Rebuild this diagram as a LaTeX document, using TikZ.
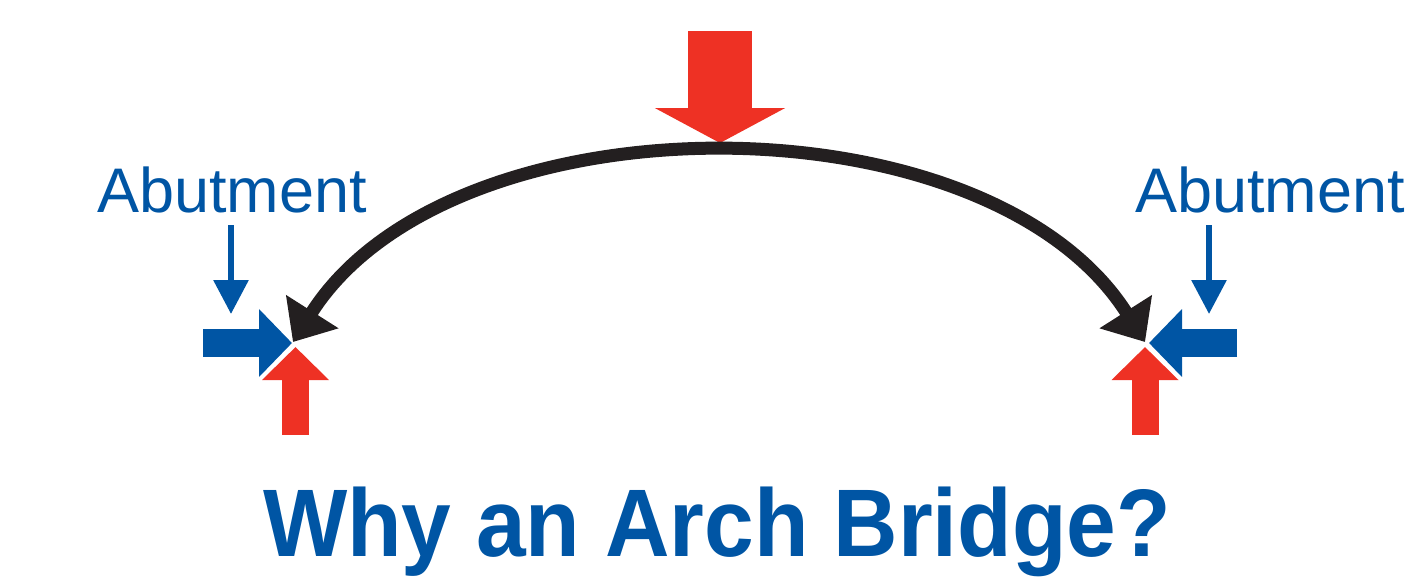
\documentclass[tikz,border=0pt]{standalone}
\usepackage{fontspec}
\setmainfont{Liberation Sans}
\usetikzlibrary{arrows.meta}
\definecolor{archblue}{HTML}{0055A4}
\definecolor{archred}{HTML}{EE3124}
\definecolor{archblack}{HTML}{231F20}

\begin{document}
\begin{tikzpicture}[
  x=1pt, y=-1pt,
  label/.style={inner sep=0pt, anchor=base, text=archblue, font=\fontsize{63}{70}\selectfont},
  heading/.style={inner sep=0pt, anchor=base, text=archblue, xscale=0.93, font=\bfseries\fontsize{96}{110}\selectfont},
  archline/.style={draw=archblack, line width=13pt, {Triangle[length=36pt, width=60pt]}-{Triangle[length=36pt, width=60pt]}},
  thinarr/.style={draw=archblue, line width=6pt, -{Triangle[length=34pt, width=34pt]}},
  push/.style={draw=archblue, line width=28pt, -{Triangle[length=33pt, width=66pt]}},
  lift/.style={draw=archred, line width=27pt, -{Triangle[length=33pt, width=65pt]}},
  load/.style={draw=archred, line width=64pt, -{Triangle[length=35pt, width=129pt]}}
]
\useasboundingbox (0,0) rectangle (1407,582);

% Load on the crown
\coordinate (loadtop) at (720,31);
\coordinate (crown) at (720,143);
\draw[load] (loadtop) -- (crown);

% The arch itself
\coordinate (archL) at (293,342);
\coordinate (archR) at (1145,342);
\coordinate (ctrlL) at (451,93);
\coordinate (ctrlR) at (987,93);
\draw[archline] (archL) .. controls (ctrlL) and (ctrlR) .. (archR);

% Left abutment
\node[label] (abutL) at (232,212) {Abutment};
\coordinate (pinL) at (231,225);
\coordinate (seatL) at (231,314);
\draw[thinarr] (pinL) -- (seatL);
\coordinate (pushL) at (203,343);
\coordinate (pushLtip) at (292,343);
\draw[push] (pushL) -- (pushLtip);
\coordinate (liftL) at (295.5,435);
\coordinate (liftLtip) at (295.5,347);
\draw[lift] (liftL) -- (liftLtip);

% Right abutment
\node[label] (abutR) at (1270,212) {Abutment};
\coordinate (pinR) at (1209,225);
\coordinate (seatR) at (1209,314);
\draw[thinarr] (pinR) -- (seatR);
\coordinate (pushR) at (1237,343);
\coordinate (pushRtip) at (1149,343);
\draw[push] (pushR) -- (pushRtip);
\coordinate (liftR) at (1145,435);
\coordinate (liftRtip) at (1145,347);
\draw[lift] (liftR) -- (liftRtip);

% Title
\node[heading] (title) at (717,556) {Why an Arch Bridge?};

\end{tikzpicture}
\end{document}
